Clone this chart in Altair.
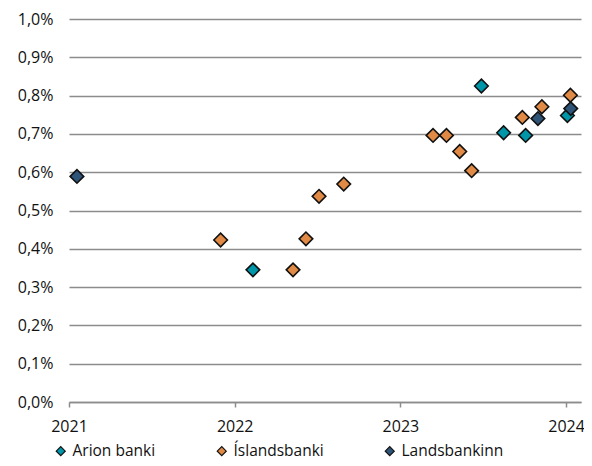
import altair as alt
import pandas as pd

banks = ["Arion banki", "Íslandsbanki", "Landsbankinn"]
colors = ["#0096A9", "#E08A45", "#2E5477"]

arion_x = [2022.11, 2023.489, 2023.623, 2023.756, 2024.008]
arion_y = [0.345, 0.825, 0.703, 0.696, 0.748]
isl_x = [2021.915, 2022.352, 2022.43, 2022.509, 2022.658, 2023.197, 2023.278,
         2023.358, 2023.43, 2023.736, 2023.854, 2024.026]
isl_y = [0.423, 0.345, 0.426, 0.537, 0.569, 0.696, 0.696, 0.654, 0.604,
         0.743, 0.771, 0.801]
lands_x = [2021.048, 2023.83, 2024.028]
lands_y = [0.589, 0.740, 0.766]

x_ticks = [2021, 2022, 2023, 2024]
y_ticks = [0.0, 0.1, 0.2, 0.3, 0.4, 0.5, 0.6, 0.7, 0.8, 0.9, 1.0]

rows = []
for name, xs, ys in [(banks[0], arion_x, arion_y), (banks[1], isl_x, isl_y), (banks[2], lands_x, lands_y)]:
    for xv, yv in zip(xs, ys):
        rows.append({"bank": name, "year": xv, "value": yv})
df = pd.DataFrame(rows)

FONT = "Open Sans"

chart = alt.Chart(df).mark_point(
    shape="diamond", filled=True, size=185, stroke="#111111", strokeWidth=1.6, opacity=1
).encode(
    x=alt.X("year:Q", scale=alt.Scale(domain=[2021, 2024.09], nice=False, zero=False),
            axis=alt.Axis(values=x_ticks, format="d", title=None, grid=False,
                          domainColor="#8c8c8c", domainWidth=1.5, tickColor="#8c8c8c",
                          tickWidth=1.5, tickSize=5, labelPadding=11, labelFlush=False)),
    y=alt.Y("value:Q", scale=alt.Scale(domain=[0, 1], nice=False),
            axis=alt.Axis(values=y_ticks, title=None, domain=False, ticks=False,
                          gridColor="#8c8c8c", gridWidth=1.5, labelPadding=16,
                          labelExpr="replace(format(datum.value, '.1f'), '.', ',') + '%'")),
    color=alt.Color("bank:N", scale=alt.Scale(domain=banks, range=colors),
                    legend=alt.Legend(title=None, orient="none", direction="horizontal",
                                      legendX=-16, legendY=424, columnPadding=58,
                                      symbolType="diamond", symbolSize=80,
                                      symbolStrokeColor="#111111", symbolStrokeWidth=1.2,
                                      labelFontSize=15.5, labelFont=FONT, labelColor="#111111",
                                      labelOffset=4)),
    order=alt.Order("bank:N"),
).properties(
    width=512, height=383,
    autosize=alt.AutoSizeParams(type="none"),
    padding={"left": 61, "top": 11, "right": 3, "bottom": 58},
).configure_axis(
    labelFont=FONT, labelFontSize=16, labelColor="#111111"
).configure_view(stroke=None)

chart.save("out.html", embed_options={"renderer": "svg", "actions": False})
